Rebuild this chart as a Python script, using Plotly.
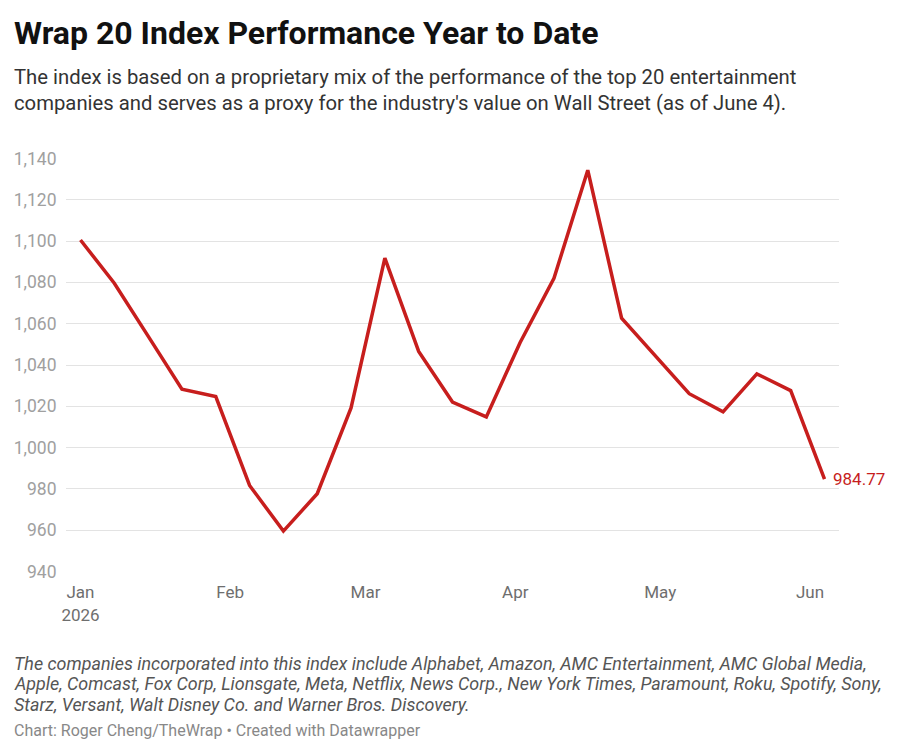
import plotly.graph_objects as go

# weekly closes, Thursdays from Jan 1 to Jun 4 2026
dates = ["2026-01-01", "2026-01-08", "2026-01-15", "2026-01-22", "2026-01-29",
         "2026-02-05", "2026-02-12", "2026-02-19", "2026-02-26", "2026-03-05",
         "2026-03-12", "2026-03-19", "2026-03-26", "2026-04-02", "2026-04-09",
         "2026-04-16", "2026-04-23", "2026-04-30", "2026-05-07", "2026-05-14",
         "2026-05-21", "2026-05-28", "2026-06-04"]
index_values = [1100.5, 1079.6, 1054.0, 1028.3, 1024.7,
                981.7, 959.6, 977.7, 1019.2, 1091.7,
                1046.6, 1022.1, 1014.9, 1050.9, 1082.0,
                1134.3, 1062.7, 1044.2, 1026.1, 1017.3,
                1035.7, 1027.6, 984.77]

month_ticks = ["2026-01-01", "2026-02-01", "2026-03-01", "2026-04-01", "2026-05-01", "2026-06-01"]
month_labels = ["Jan<br>2026", "Feb", "Mar", "Apr", "May", "Jun"]
y_ticks = [940, 960, 980, 1000, 1020, 1040, 1060, 1080, 1100, 1120, 1140]

title = "Wrap 20 Index Performance Year to Date"
subtitle = ["The index is based on a proprietary mix of the performance of the top 20 entertainment",
            "companies and serves as a proxy for the industry's value on Wall Street (as of June 4)."]
notes = ["The companies incorporated into this index include Alphabet, Amazon, AMC Entertainment, AMC Global Media,",
         "Apple, Comcast, Fox Corp, Lionsgate, Meta, Netflix, News Corp., New York Times, Paramount, Roku, Spotify, Sony,",
         "Starz, Versant, Walt Disney Co. and Warner Bros. Discovery."]
credit = "Chart: Roger Cheng/TheWrap • Created with Datawrapper"

RED = "#c71e1d"
OFF = 8  # page body margin
W, H = 900 - OFF, 754 - OFF
L, T = 66 - OFF, 158 - OFF
R, B = W - (839 - OFF), H - (572 - OFF)
plot_w = W - L - R
plot_h = H - T - B
TEXT_X = 12  # left edge of the header/footer text (annotation box)


def px_x(px):
    return (px - OFF - L) / plot_w


def px_y(py):
    return (H - B - (py - OFF)) / plot_h


fig = go.Figure()
fig.add_trace(go.Scatter(
    x=dates, y=index_values, mode="lines",
    line=dict(color=RED, width=3.5),
    hoverinfo="skip", showlegend=False,
))

annotations = []
annotations.append(dict(text="<b>" + title + "</b>", x=px_x(TEXT_X), y=px_y(33),
                        font=dict(size=32, color="#111111", family="Roboto")))
for i, line in enumerate(subtitle):
    annotations.append(dict(text=line, x=px_x(TEXT_X), y=px_y(77 + 26 * i),
                            font=dict(size=20.3, color="#333333", family="Roboto")))
for i, line in enumerate(notes):
    annotations.append(dict(text="<i>" + line + "</i>", x=px_x(TEXT_X), y=px_y(663 + 20.5 * i),
                            font=dict(size=17.9, color="#555555", family="Roboto")))
annotations.append(dict(text=credit, x=px_x(TEXT_X), y=px_y(730),
                        font=dict(size=16, color="#888888", family="Roboto")))
for a in annotations:
    a.update(xref="paper", yref="paper", xanchor="left", yanchor="middle", showarrow=False)

# end value label
annotations.append(dict(text=f"{index_values[-1]:.2f}", x=dates[-1], y=index_values[-1],
                        xref="x", yref="y", xanchor="left", yanchor="middle",
                        xshift=6, showarrow=False,
                        font=dict(size=17, color=RED, family="Roboto")))

fig.update_layout(
    width=W, height=H,
    margin=dict(l=L, r=R, t=T, b=B, autoexpand=False),
    paper_bgcolor="white", plot_bgcolor="white",
    font=dict(family="Roboto"),
    annotations=annotations,
)
fig.update_xaxes(
    range=["2025-12-29", "2026-06-07"],
    tickvals=month_ticks, ticktext=month_labels,
    showgrid=False, zeroline=False, showline=False,
    ticks="outside", ticklen=5, tickcolor="white",
    tickfont=dict(size=17, color="#6e6e6e"),
    automargin=False,
)
fig.update_yaxes(
    range=[939.8, 1140.2],
    tickvals=y_ticks, tickformat=",d",
    showgrid=True, gridcolor="#e3e3e3", gridwidth=1,
    zeroline=False, showline=False,
    ticks="outside", ticklen=5, tickcolor="white",
    tickfont=dict(size=17.5, color="#a0a0a0"),
    automargin=False,
)

fig.write_html("out.html")
